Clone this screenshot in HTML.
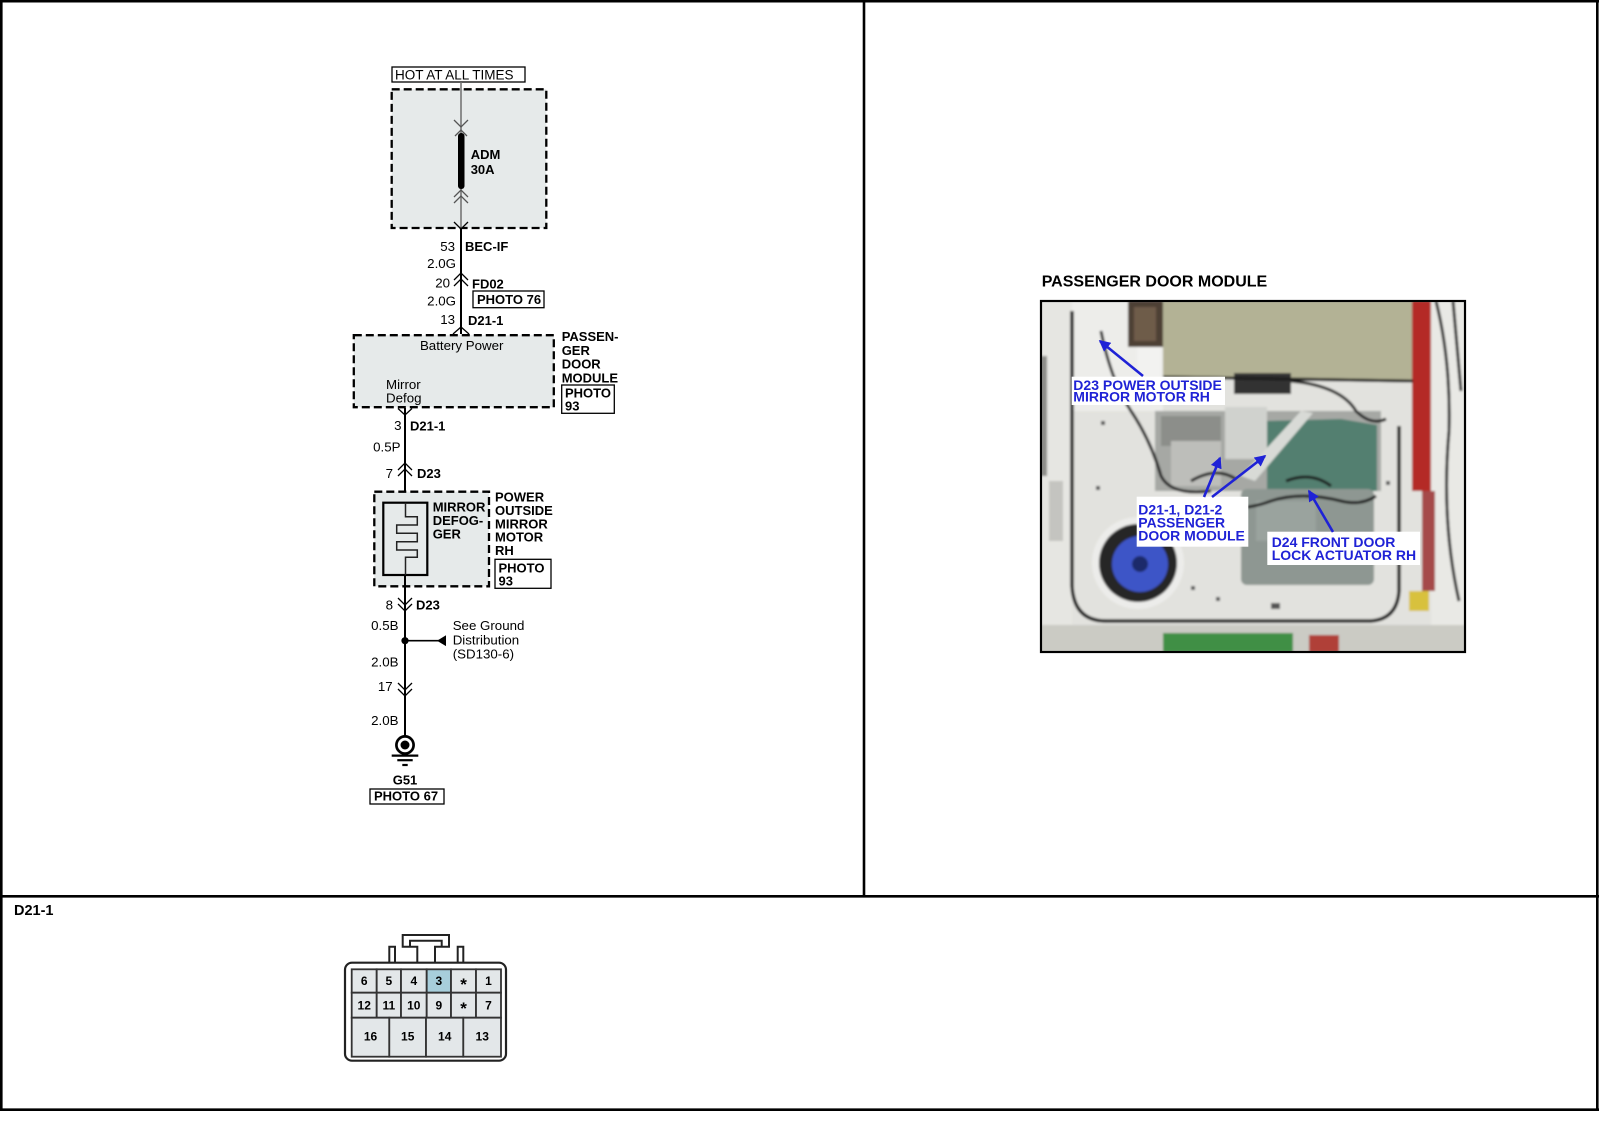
<!DOCTYPE html>
<html><head><meta charset="utf-8">
<style>
html,body{margin:0;padding:0;background:#fff;}
svg{display:block;}
text{font-family:"Liberation Sans",Arial,sans-serif;fill:#000;}
.b{font-weight:bold;}
.bl{font-weight:bold;fill:#1f22d6;}
</style></head><body>
<svg width="1600" height="1143" viewBox="0 0 1600 1143" xmlns="http://www.w3.org/2000/svg">
<defs>
<marker id="ah" markerWidth="4.4" markerHeight="4.4" refX="3.8" refY="2.2" orient="auto" markerUnits="strokeWidth"><path d="M0,0 L4.4,2.2 L0,4.4 z" fill="#1f22d6"/></marker>
<filter id="blr"><feGaussianBlur stdDeviation="1.1"/></filter>
</defs>

<!-- FRAME -->
<g stroke="#000" stroke-width="2.6" fill="none">
<line x1="1.3" y1="0" x2="1.3" y2="1111"/>
<line x1="0" y1="1.2" x2="1599" y2="1.2"/>
<line x1="1597.3" y1="0" x2="1597.3" y2="1111"/>
<line x1="0" y1="896.3" x2="1599" y2="896.3"/>
<line x1="0" y1="1109.7" x2="1599" y2="1109.7"/>
<line x1="864" y1="0" x2="864" y2="896"/>
</g>

<!-- TOP FUSE BOX -->
<rect x="392" y="67" width="133" height="15" fill="#fff" stroke="#000" stroke-width="1.3"/>
<text x="395" y="79.5" font-size="13.5">HOT AT ALL TIMES</text>
<rect x="391.7" y="89.3" width="154.6" height="138.7" fill="#e6eaea" stroke="#000" stroke-width="2.3" stroke-dasharray="8 4"/>
<line x1="461" y1="82" x2="461" y2="229" stroke="#6e6e6e" stroke-width="1.5"/>
<g stroke="#555" stroke-width="1.3" fill="none">
<path d="M454 120 L461 127 L468 120"/>
<path d="M455 136 L461 130 L467 136"/>
<path d="M454 197 L461 190 L468 197"/>
<path d="M454 203 L461 196 L468 203"/>
</g>
<rect x="458" y="133" width="6.5" height="56" rx="3" fill="#000"/>
<text x="470.7" y="159" font-size="13" class="b">ADM</text>
<text x="470.7" y="174" font-size="13" class="b">30A</text>

<line x1="461" y1="229" x2="461" y2="334" stroke="#000" stroke-width="2"/>
<g stroke="#000" stroke-width="1.3" fill="none">
<path d="M454 222 L461 229 L468 222"/>
<path d="M454 280 L461 273 L468 280"/>
<path d="M454 286 L461 279 L468 286"/>
<path d="M453 334 L461 327 L469 334"/>
</g>
<text x="455" y="251" font-size="13.3" text-anchor="end">53</text>
<text x="465" y="251" font-size="13" class="b">BEC-IF</text>
<text x="456" y="268" font-size="13.3" text-anchor="end">2.0G</text>
<text x="450" y="287.5" font-size="13.3" text-anchor="end">20</text>
<text x="472" y="288.5" font-size="13" class="b">FD02</text>
<rect x="473" y="291" width="71" height="16.7" fill="#fff" stroke="#000" stroke-width="1.3"/>
<text x="477" y="304" font-size="13" class="b">PHOTO 76</text>
<text x="456" y="305.5" font-size="13.3" text-anchor="end">2.0G</text>
<text x="455" y="324" font-size="13.3" text-anchor="end">13</text>
<text x="468" y="325" font-size="13" class="b">D21-1</text>

<!-- PASSENGER DOOR MODULE BOX -->
<rect x="353.8" y="335.2" width="200" height="72" fill="#e6eaea" stroke="#000" stroke-width="2.3" stroke-dasharray="8 4"/>
<text x="461.7" y="350" font-size="13.3" text-anchor="middle">Battery Power</text>
<text x="386" y="389" font-size="13.3">Mirror</text>
<text x="386" y="402.7" font-size="13.3">Defog</text>
<text x="561.7" y="341" font-size="13" class="b">PASSEN-</text>
<text x="561.7" y="355" font-size="13" class="b">GER</text>
<text x="561.7" y="368.5" font-size="13" class="b">DOOR</text>
<text x="561.7" y="382.5" font-size="13" class="b">MODULE</text>
<rect x="561.7" y="385" width="52.6" height="28.3" fill="#fff" stroke="#000" stroke-width="1.3"/>
<text x="565" y="397.3" font-size="13" class="b">PHOTO</text>
<text x="565" y="410.7" font-size="13" class="b">93</text>

<line x1="405" y1="408" x2="405" y2="503" stroke="#000" stroke-width="2"/>
<g stroke="#000" stroke-width="1.3" fill="none">
<path d="M398 408.5 L405 415 L412 408.5"/>
<path d="M398 470 L405 463 L412 470"/>
<path d="M398 476 L405 469 L412 476"/>
</g>
<text x="401.5" y="430" font-size="13.3" text-anchor="end">3</text>
<text x="410" y="430.5" font-size="13" class="b">D21-1</text>
<text x="400.5" y="451.5" font-size="13.3" text-anchor="end">0.5P</text>
<text x="393" y="478" font-size="13.3" text-anchor="end">7</text>
<text x="417" y="478" font-size="13" class="b">D23</text>

<!-- MIRROR BOX -->
<rect x="374.3" y="491.7" width="114.7" height="94.6" fill="#e6eaea" stroke="#000" stroke-width="2.3" stroke-dasharray="8 4"/>
<rect x="383.3" y="502.7" width="44" height="72.3" fill="none" stroke="#000" stroke-width="2.2"/>
<path d="M405.5 502.7 V516.7 H417.3 V525 H396.7 V533.3 H417.3 V541.7 H396.7 V550 H417.3 V557.3 H405.5 V575" fill="none" stroke="#222" stroke-width="1.5"/>
<text x="432.7" y="511.7" font-size="13" class="b">MIRROR</text>
<text x="432.7" y="525" font-size="13" class="b">DEFOG-</text>
<text x="432.7" y="538.3" font-size="13" class="b">GER</text>
<text x="495" y="501.7" font-size="13" class="b">POWER</text>
<text x="495" y="515" font-size="13" class="b">OUTSIDE</text>
<text x="495" y="528.3" font-size="13" class="b">MIRROR</text>
<text x="495" y="541.7" font-size="13" class="b">MOTOR</text>
<text x="495" y="555" font-size="13" class="b">RH</text>
<rect x="495" y="559.3" width="56" height="29" fill="#fff" stroke="#000" stroke-width="1.3"/>
<text x="498.5" y="572.7" font-size="13" class="b">PHOTO</text>
<text x="498.5" y="585.7" font-size="13" class="b">93</text>

<!-- GROUND SECTION -->
<line x1="405" y1="575" x2="405" y2="737" stroke="#000" stroke-width="2"/>
<g stroke="#000" stroke-width="1.3" fill="none">
<path d="M398 598 L405 605 L412 598"/>
<path d="M398 604 L405 611 L412 604"/>
<path d="M398 683 L405 690 L412 683"/>
<path d="M398 689 L405 696 L412 689"/>
</g>
<text x="393" y="609.5" font-size="13.3" text-anchor="end">8</text>
<text x="416" y="609.5" font-size="13" class="b">D23</text>
<text x="398.5" y="630" font-size="13.3" text-anchor="end">0.5B</text>
<circle cx="405" cy="640.7" r="3.6" fill="#000"/>
<line x1="405" y1="640.7" x2="440" y2="640.7" stroke="#000" stroke-width="1.6"/>
<path d="M437 640.7 L446 635.3 L446 646.1 Z" fill="#000"/>
<text x="452.7" y="630" font-size="13.3">See Ground</text>
<text x="452.7" y="644.3" font-size="13.3">Distribution</text>
<text x="452.7" y="658.3" font-size="13.3">(SD130-6)</text>
<text x="398.5" y="666.7" font-size="13.3" text-anchor="end">2.0B</text>
<text x="392.7" y="691" font-size="13.3" text-anchor="end">17</text>
<text x="398.5" y="725" font-size="13.3" text-anchor="end">2.0B</text>
<circle cx="405" cy="745" r="8.6" fill="#fff" stroke="#000" stroke-width="2.7"/>
<circle cx="405" cy="745" r="4.5" fill="#000"/>
<g stroke="#000" stroke-width="2.2">
<line x1="391.7" y1="755.6" x2="418.3" y2="755.6"/>
<line x1="397.3" y1="760.2" x2="412.7" y2="760.2"/>
<line x1="402.3" y1="765" x2="407.7" y2="765"/>
</g>
<text x="405" y="784.3" font-size="13" class="b" text-anchor="middle">G51</text>
<rect x="370" y="789" width="74" height="15" fill="#fff" stroke="#000" stroke-width="1.3"/>
<text x="374" y="800.5" font-size="13" class="b">PHOTO 67</text>

<!-- BOTTOM CONNECTOR -->
<text x="14" y="915" font-size="14.5" class="b">D21-1</text>
<g stroke="#222" stroke-width="2" fill="none" stroke-linejoin="miter">
<path d="M389.3 962.7 V946.7 H395 V962.7"/>
<path d="M457.7 962.7 V946.7 H463.3 V962.7"/>
<path d="M417.3 962.7 V946.7 H402.7 V935 H449 V946.7 H435 V962.7"/>
<path d="M410 946.7 V940.7 H441.7 V946.7"/>
</g>
<rect x="345" y="962.7" width="161" height="98" rx="7" fill="#fff" stroke="#222" stroke-width="2.2"/>
<g stroke="#333" stroke-width="1.8">
<rect x="351.7" y="969.3" width="25" height="23.4" fill="#e3e7e9"/>
<rect x="376.7" y="969.3" width="24.3" height="23.4" fill="#e3e7e9"/>
<rect x="401" y="969.3" width="25.7" height="23.4" fill="#e3e7e9"/>
<rect x="426.7" y="969.3" width="24.3" height="23.4" fill="#a7cedb"/>
<rect x="451" y="969.3" width="25" height="23.4" fill="#e3e7e9"/>
<rect x="476" y="969.3" width="25" height="23.4" fill="#e3e7e9"/>
<rect x="351.7" y="992.7" width="25" height="25" fill="#e3e7e9"/>
<rect x="376.7" y="992.7" width="24.3" height="25" fill="#e3e7e9"/>
<rect x="401" y="992.7" width="25.7" height="25" fill="#e3e7e9"/>
<rect x="426.7" y="992.7" width="24.3" height="25" fill="#e3e7e9"/>
<rect x="451" y="992.7" width="25" height="25" fill="#e3e7e9"/>
<rect x="476" y="992.7" width="25" height="25" fill="#e3e7e9"/>
<rect x="351.7" y="1017.7" width="37.6" height="39" fill="#e3e7e9"/>
<rect x="389.3" y="1017.7" width="36.7" height="39" fill="#e3e7e9"/>
<rect x="426" y="1017.7" width="37.3" height="39" fill="#e3e7e9"/>
<rect x="463.3" y="1017.7" width="37.7" height="39" fill="#e3e7e9"/>
</g>
<g font-size="12" font-weight="bold" text-anchor="middle">
<text x="364.2" y="985">6</text>
<text x="388.8" y="985">5</text>
<text x="413.8" y="985">4</text>
<text x="438.8" y="985">3</text>
<text x="463.5" y="990" font-size="17">*</text>
<text x="488.5" y="985">1</text>
<text x="364.2" y="1009.3">12</text>
<text x="388.8" y="1009.3">11</text>
<text x="413.8" y="1009.3">10</text>
<text x="438.8" y="1009.3">9</text>
<text x="463.5" y="1014" font-size="17">*</text>
<text x="488.5" y="1009.3">7</text>
<text x="370.5" y="1040.7">16</text>
<text x="407.7" y="1040.7">15</text>
<text x="444.7" y="1040.7">14</text>
<text x="482.2" y="1040.7">13</text>
</g>

<!-- PHOTO -->
<text x="1041.7" y="286.7" font-size="16" class="b">PASSENGER DOOR MODULE</text>
<svg x="1041" y="301" width="424" height="351" viewBox="0 0 424 351">
<g filter="url(#blr)">
<rect width="424" height="351" fill="#e2e2de"/>
<rect x="0" y="0" width="31" height="351" fill="#e6e6e2"/>
<rect x="0" y="55" width="6" height="120" fill="#8e8e8a"/>
<rect x="8" y="180" width="14" height="60" fill="#c4c4c0"/>
<rect x="31" y="0" width="91" height="110" fill="#ededea"/>
<polygon points="122,0 372,0 372,80 122,76" fill="#b3b295"/>
<rect x="87" y="0" width="35" height="46" fill="#4d4035"/>
<rect x="93" y="6" width="22" height="34" fill="#6e5c48"/>
<rect x="96" y="46" width="24" height="36" fill="#f2f2f0"/>
<rect x="371" y="0" width="19" height="190" fill="#b42a26"/>
<rect x="390" y="0" width="34" height="351" fill="#e9e9e5"/>
<rect x="381" y="190" width="13" height="100" fill="#a54a48"/>
<rect x="114" y="110" width="226" height="80" fill="#a6a8a4"/>
<rect x="120" y="115" width="60" height="30" fill="#8c8e8a"/>
<rect x="130" y="140" width="50" height="45" fill="#bdbeba"/>
<rect x="184" y="106" width="42" height="52" fill="#d0d2ce"/>
<polygon points="226,120 300,118 336,124 336,190 226,190" fill="#527f70"/>
<polygon points="200,175 260,110 272,112 214,180" fill="#d8dad6"/>
<rect x="200" y="188" width="133" height="96" rx="6" fill="#8e9792"/>
<rect x="215" y="200" width="60" height="40" fill="#9aa39e"/>
<rect x="193" y="72" width="57" height="21" fill="#303030"/>
<g stroke="#1c1c1c" stroke-width="3" fill="none">
<path d="M122 76 L372 80"/>
<path d="M60 30 Q70 80 90 110 Q110 140 120 175 Q130 195 170 190"/>
<path d="M140 200 Q190 215 230 200 Q260 190 300 200 Q320 205 335 195"/>
<path d="M250 80 Q300 85 315 110 Q330 125 345 118"/>
<path d="M245 180 Q270 170 290 185"/>
<path d="M150 180 Q175 165 195 178"/>
<path d="M395 0 Q410 60 408 130 Q400 220 418 300"/>
<path d="M412 0 L420 90"/>
</g>
<g fill="#555">
<rect x="60" y="120" width="4" height="4"/>
<rect x="55" y="185" width="4" height="4"/>
<rect x="175" y="296" width="4" height="4"/>
<rect x="230" y="302" width="9" height="6"/>
<rect x="320" y="250" width="4" height="4"/>
<rect x="345" y="180" width="4" height="4"/>
<rect x="150" y="285" width="4" height="4"/>
</g>
<path d="M31 10 L31 285 Q33 320 65 320 L330 320 Q356 318 358 290 L358 125" fill="none" stroke="#151515" stroke-width="3.5"/>
<circle cx="97" cy="262" r="46" fill="#ececea"/>
<circle cx="97" cy="262" r="39" fill="#262626"/>
<circle cx="99" cy="263" r="28" fill="#3d55c7"/>
<circle cx="99" cy="263" r="8" fill="#1c2a6a"/>
<rect x="0" y="324" width="424" height="27" fill="#cbcbc4"/>
<rect x="122" y="332" width="130" height="19" fill="#3f8f45"/>
<rect x="268" y="334" width="30" height="17" fill="#b04038"/>
<rect x="368" y="290" width="20" height="20" fill="#d8c13c"/>
</g>
</svg>
<rect x="1041" y="301" width="424" height="351" fill="none" stroke="#000" stroke-width="2.2"/>

<!-- PHOTO LABELS -->
<rect x="1071.7" y="376.7" width="153.3" height="28.3" fill="#fff"/>
<text x="1073.3" y="390" font-size="14" class="bl">D23 POWER OUTSIDE</text>
<text x="1073.3" y="401.7" font-size="14" class="bl">MIRROR MOTOR RH</text>
<rect x="1136.7" y="496.7" width="111.6" height="50" fill="#fff"/>
<text x="1138.3" y="514.7" font-size="14" class="bl">D21-1, D21-2</text>
<text x="1138.3" y="527.7" font-size="14" class="bl">PASSENGER</text>
<text x="1138.3" y="540.3" font-size="14" class="bl">DOOR MODULE</text>
<rect x="1267.3" y="531.7" width="152.7" height="33.3" fill="#fff"/>
<text x="1271.7" y="547" font-size="14" class="bl">D24 FRONT DOOR</text>
<text x="1271.7" y="560" font-size="14" class="bl">LOCK ACTUATOR RH</text>
<g stroke="#1f22d6" stroke-width="2.6" fill="none" marker-end="url(#ah)">
<line x1="1143" y1="376" x2="1100" y2="341"/>
<line x1="1204" y1="497" x2="1220" y2="458"/>
<line x1="1212" y1="497" x2="1265" y2="456"/>
<line x1="1333" y1="532" x2="1309" y2="491"/>
</g>
</svg>
</body></html>
